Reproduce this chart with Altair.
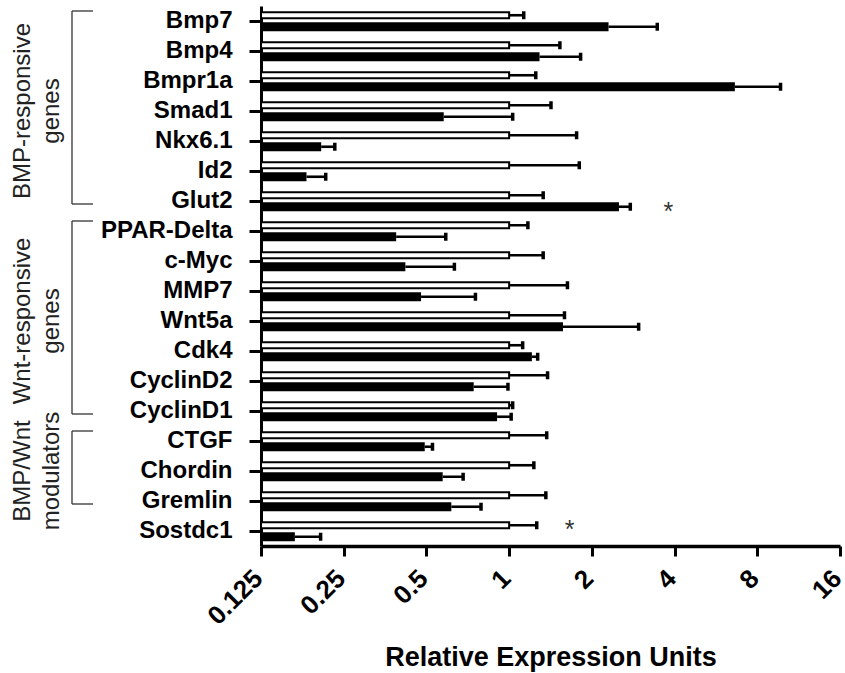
import altair as alt
import pandas as pd

# Genes from top to bottom
genes = ["Bmp7", "Bmp4", "Bmpr1a", "Smad1", "Nkx6.1", "Id2", "Glut2",
         "PPAR-Delta", "c-Myc", "MMP7", "Wnt5a", "Cdk4", "CyclinD2", "CyclinD1",
         "CTGF", "Chordin", "Gremlin", "Sostdc1"]

# Relative expression (mean) and upper error limit, control vs treated
control_mean = [1.0, 1.0, 1.0, 1.0, 1.0, 1.0, 1.0,
                1.0, 1.0, 1.0, 1.0, 1.0, 1.0, 1.0,
                1.0, 1.0, 1.0, 1.0]
control_upper = [1.13, 1.53, 1.25, 1.42, 1.76, 1.80, 1.33,
                 1.17, 1.33, 1.63, 1.59, 1.12, 1.38, 1.03,
                 1.37, 1.23, 1.36, 1.26]
treated_mean = [2.30, 1.29, 6.63, 0.578, 0.207, 0.183, 2.51,
                0.388, 0.419, 0.478, 1.57, 1.21, 0.743, 0.904,
                0.493, 0.573, 0.616, 0.166]
treated_upper = [3.46, 1.82, 9.72, 1.03, 0.232, 0.215, 2.76,
                 0.588, 0.632, 0.754, 2.96, 1.27, 0.99, 1.017,
                 0.526, 0.68, 0.79, 0.206]

# Significance markers
star_gene = ["Glut2", "Sostdc1"]
star_series = ["Treated", "Control"]
star_x = [3.8, 1.66]

# Gene groupings shown with brackets on the left
group_label = ["BMP-responsive\ngenes", "Wnt-responsive\ngenes", "BMP/Wnt\nmodulators"]
group_first = ["Bmp7", "PPAR-Delta", "CTGF"]
group_last = ["Glut2", "CyclinD1", "Gremlin"]
group_mid = ["Smad1", "Wnt5a", "Chordin"]

x_ticks = [0.125, 0.25, 0.5, 1, 2, 4, 8, 16]
axis_min = 0.125

rows = []
for i, g in enumerate(genes):
    rows.append(dict(gene=g, series="Control", mean=control_mean[i],
                     upper=control_upper[i], base=axis_min))
    rows.append(dict(gene=g, series="Treated", mean=treated_mean[i],
                     upper=treated_upper[i], base=axis_min))
df = pd.DataFrame(rows)

stars = pd.DataFrame(dict(gene=star_gene, series=star_series, x=star_x))
groups = pd.DataFrame(dict(label=group_label, first=group_first,
                           last=group_last, mid=group_mid))

FONT = "Liberation Sans"
TITLE = "Relative Expression  Units"

x_scale = alt.Scale(type="log", base=2, domain=[0.125, 16], nice=False)
y_scale = alt.Scale(domain=genes, paddingInner=1 / 3, paddingOuter=1 / 6)
off_scale = alt.Scale(domain=["Control", "Treated"], paddingInner=0.26, paddingOuter=0)

x_axis = alt.Axis(values=x_ticks, format="~g", grid=False,
                  labelAngle=315, labelAlign="right", labelBaseline="middle",
                  labelFont=FONT, labelFontSize=26, labelFontWeight="bold",
                  labelColor="black", labelPadding=18, labelOffset=-3,
                  labelFlush=False, labelOverlap=False,
                  tickSize=10, tickWidth=3, tickColor="black",
                  domainWidth=3.5, domainColor="black",
                  titleFont=FONT, titleFontSize=27, titleFontWeight="bold",
                  titleColor="black", titlePadding=15)
y_axis = alt.Axis(grid=False, labelFont=FONT, labelFontSize=24,
                  labelFontWeight="bold", labelColor="black", labelPadding=17,
                  tickSize=12, tickWidth=3, tickColor="black",
                  domainWidth=3, domainColor="black")


def xq(field):
    return alt.X(field, type="quantitative", scale=x_scale, axis=x_axis, title=TITLE)


def yn(field, **kw):
    return alt.Y(field, type="nominal", scale=y_scale, axis=y_axis, title=None, **kw)


offset = alt.YOffset("series:N", scale=off_scale)

base = alt.Chart(df)
ctrl = base.transform_filter(alt.datum.series == "Control")
trt = base.transform_filter(alt.datum.series == "Treated")

ctrl_bars = ctrl.mark_bar(fill="white", stroke="black", strokeWidth=2, size=6).encode(
    x=xq("mean"), x2="base:Q", y=yn("gene"), yOffset=offset)
trt_bars = trt.mark_bar(color="black", size=9).encode(
    x=xq("mean"), x2="base:Q", y=yn("gene"), yOffset=offset)

err_lines = base.mark_bar(color="black", size=2.6).encode(
    x=xq("mean"), x2="upper:Q", y=yn("gene"), yOffset=offset)
err_caps = base.mark_tick(color="black", thickness=3.5, size=8, opacity=1).encode(
    x=xq("upper"), y=yn("gene"), yOffset=offset)

star_marks = alt.Chart(stars).mark_text(
    text="*", font=FONT, fontSize=25, color="#333333", align="center",
    baseline="middle", dy=5).encode(
    x=xq("x"), y=yn("gene"), yOffset=alt.YOffset("series:N", scale=off_scale))

bracket_v = alt.Chart(groups).mark_rule(color="#333333", strokeWidth=1.3).encode(
    x=alt.value(-189),
    y=yn("first", bandPosition=0.0),
    y2=alt.Y2("last:N", bandPosition=0.65))
bracket_top = alt.Chart(groups).mark_rule(color="#333333", strokeWidth=1.3).encode(
    x=alt.value(-189), x2=alt.value(-168),
    y=yn("first", bandPosition=0.0))
bracket_bottom = alt.Chart(groups).mark_rule(color="#333333", strokeWidth=1.3).encode(
    x=alt.value(-189), x2=alt.value(-168),
    y=yn("last", bandPosition=0.65))

group_text = alt.Chart(groups).mark_text(
    font=FONT, fontSize=24, color="#222222", angle=270, align="center",
    baseline="middle", lineBreak="\n", lineHeight=29).encode(
    x=alt.value(-238), y=yn("mid"), text="label:N")

chart = alt.layer(
    ctrl_bars, trt_bars, err_lines, err_caps, star_marks,
    bracket_v, bracket_top, bracket_bottom, group_text
).properties(
    width=579, height=540,
    autosize=alt.AutoSizeParams(type="none"),
    padding={"left": 261, "top": 6, "right": 5, "bottom": 127},
    background="white",
).configure_view(strokeWidth=0)

chart.save("out.html", embed_options={"renderer": "svg", "actions": False})
